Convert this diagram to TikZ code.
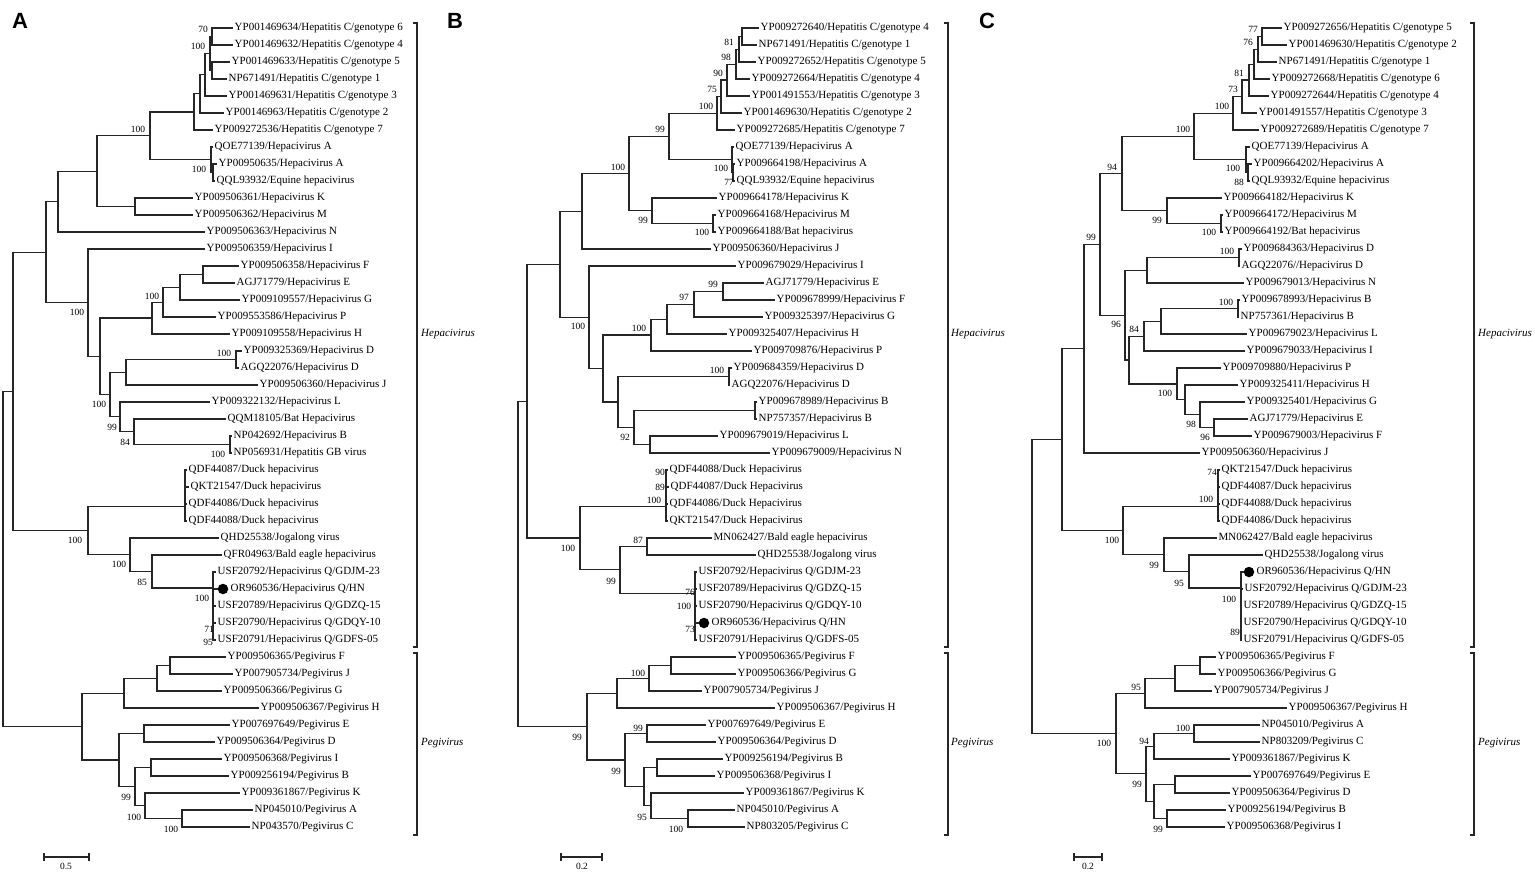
\documentclass[tikz,border=0pt]{standalone}
\usepackage{fontspec}
\setmainfont{Liberation Serif}
\newfontfamily\panelfont{Liberation Sans}
\usetikzlibrary{calc}

\begin{document}
\begin{tikzpicture}[x=1pt, y=-1pt,
  branch/.style={line width=1.2pt, draw=black!85},
  leaf/.style={anchor=west, inner sep=1.5pt, font=\fontsize{11}{11}\selectfont},
  boot/.style={inner sep=0pt, font=\fontsize{9.5}{9.5}\selectfont},
  dot/.style={circle, fill=black, inner sep=0pt, minimum size=10.5pt},
  genus/.style={anchor=west, inner sep=0pt, font=\fontsize{11}{11}\selectfont\itshape},
  panel/.style={inner sep=0pt, font=\fontsize{22}{22}\panelfont\bfseries},
  scalebar/.style={line width=1.2pt, draw=black!85}]

\def\clade#1#2#3#4{\path let \p1=(#3), \p2=(#4) in coordinate (#1) at (#2pt,{(\y1+\y2)/2});
  \draw[branch] (#1) |- (#3); \draw[branch] (#1) |- (#4);}

\useasboundingbox (0,0) rectangle (1535,871);

\node[panel] (pA) at (20,21) {A};
\node[panel] (pB) at (455,21) {B};
\node[panel] (pC) at (987,21) {C};

% panel A
\node[leaf] (A1) at (233,28) {YP001469634/Hepatitis C/genotype 6};
\node[leaf] (A2) at (233,45) {YP001469632/Hepatitis C/genotype 4};
\node[leaf] (A3) at (230,62) {YP001469633/Hepatitis C/genotype 5};
\node[leaf] (A4) at (227,79) {NP671491/Hepatitis C/genotype 1};
\node[leaf] (A5) at (227,96) {YP001469631/Hepatitis C/genotype 3};
\node[leaf] (A6) at (224,113) {YP00146963/Hepatitis C/genotype 2};
\node[leaf] (A7) at (213,130) {YP009272536/Hepatitis C/genotype 7};
\node[leaf] (A8) at (213,147) {QOE77139/Hepacivirus A};
\node[leaf] (A9) at (217,164) {YP00950635/Hepacivirus A};
\node[leaf] (A10) at (215,181) {QQL93932/Equine hepacivirus};
\node[leaf] (A11) at (193,198) {YP009506361/Hepacivirus K};
\node[leaf] (A12) at (193,215) {YP009506362/Hepacivirus M};
\node[leaf] (A13) at (205,232) {YP009506363/Hepacivirus N};
\node[leaf] (A14) at (205,249) {YP009506359/Hepacivirus I};
\node[leaf] (A15) at (239,266) {YP009506358/Hepacivirus F};
\node[leaf] (A16) at (235,283) {AGJ71779/Hepacivirus E};
\node[leaf] (A17) at (240,300) {YP009109557/Hepacivirus G};
\node[leaf] (A18) at (216,317) {YP009553586/Hepacivirus P};
\node[leaf] (A19) at (230,334) {YP009109558/Hepacivirus H};
\node[leaf] (A20) at (242,351) {YP009325369/Hepacivirus D};
\node[leaf] (A21) at (239,368) {AGQ22076/Hepacivirus D};
\node[leaf] (A22) at (258,385) {YP009506360/Hepacivirus J};
\node[leaf] (A23) at (210,402) {YP009322132/Hepacivirus L};
\node[leaf] (A24) at (226,419) {QQM18105/Bat Hepacivirus};
\node[leaf] (A25) at (232,436) {NP042692/Hepacivirus B};
\node[leaf] (A26) at (232,453) {NP056931/Hepatitis GB virus};
\node[leaf] (A27) at (187,470) {QDF44087/Duck hepacivirus};
\node[leaf] (A28) at (189,487) {QKT21547/Duck hepacivirus};
\node[leaf] (A29) at (187,504) {QDF44086/Duck hepacivirus};
\node[leaf] (A30) at (187,521) {QDF44088/Duck hepacivirus};
\node[leaf] (A31) at (219,538) {QHD25538/Jogalong virus};
\node[leaf] (A32) at (222,555) {QFR04963/Bald eagle hepacivirus};
\node[leaf] (A33) at (216,572) {USF20792/Hepacivirus Q/GDJM-23};
\node[dot] (A34d) at (223,589) {};
\node[leaf] (A34) at (229,589) {OR960536/Hepacivirus Q/HN};
\node[leaf] (A35) at (216,606) {USF20789/Hepacivirus Q/GDZQ-15};
\node[leaf] (A36) at (216,623) {USF20790/Hepacivirus Q/GDQY-10};
\node[leaf] (A37) at (216,640) {USF20791/Hepacivirus Q/GDFS-05};
\node[leaf] (A38) at (226,657) {YP009506365/Pegivirus F};
\node[leaf] (A39) at (233,674) {YP007905734/Pegivirus J};
\node[leaf] (A40) at (222,691) {YP009506366/Pegivirus G};
\node[leaf] (A41) at (259,708) {YP009506367/Pegivirus H};
\node[leaf] (A42) at (230,725) {YP007697649/Pegivirus E};
\node[leaf] (A43) at (215,742) {YP009506364/Pegivirus D};
\node[leaf] (A44) at (222,759) {YP009506368/Pegivirus I};
\node[leaf] (A45) at (229,776) {YP009256194/Pegivirus B};
\node[leaf] (A46) at (240,793) {YP009361867/Pegivirus K};
\node[leaf] (A47) at (253,810) {NP045010/Pegivirus A};
\node[leaf] (A48) at (250,827) {NP043570/Pegivirus C};

\clade{a12}{212}{A1}{A2}
\clade{a34}{212}{A3}{A4}
\clade{a14}{210}{a12}{a34}
\clade{a15}{205}{a14}{A5}
\clade{a16}{200}{a15}{A6}
\clade{a17}{194}{a16}{A7}
\clade{a910}{213}{A9}{A10}
\clade{a810}{211}{A8}{a910}
\clade{a110}{150}{a17}{a810}
\clade{a1112}{135}{A11}{A12}
\clade{a112}{97}{a110}{a1112}
\clade{a113}{58}{a112}{A13}
\clade{a1516}{203}{A15}{A16}
\clade{a1517}{180}{a1516}{A17}
\clade{a1518}{163}{a1517}{A18}
\clade{a1519}{152}{a1518}{A19}
\clade{a2021}{236}{A20}{A21}
\clade{a2022}{126}{a2021}{A22}
\clade{a2526}{230}{A25}{A26}
\clade{a2426}{134}{A24}{a2526}
\clade{a2326}{120}{A23}{a2426}
\clade{a2026}{110}{a2022}{a2326}
\clade{a1526}{100}{a1519}{a2026}
\clade{a1426}{88}{A14}{a1526}
\clade{a126}{46}{a113}{a1426}
\clade{a2728}{185}{A27}{A28}
\clade{a2729}{185}{a2728}{A29}
\clade{a2730}{185}{a2729}{A30}
\clade{a3637}{213}{A36}{A37}
\clade{a3537}{213}{A35}{a3637}
\clade{a3437}{213}{A34d}{a3537}
\clade{a3337}{213}{A33}{a3437}
\clade{a3237}{152}{A32}{a3337}
\clade{a3137}{130}{A31}{a3237}
\clade{a2737}{88}{a2730}{a3137}
\clade{a137}{13}{a126}{a2737}
\clade{a3839}{170}{A38}{A39}
\clade{a3840}{157}{a3839}{A40}
\clade{a3841}{124}{a3840}{A41}
\clade{a4243}{144}{A42}{A43}
\clade{a4445}{151}{A44}{A45}
\clade{a4748}{182}{A47}{A48}
\clade{a4648}{145}{A46}{a4748}
\clade{a4448}{135}{a4445}{a4648}
\clade{a4248}{119}{a4243}{a4448}
\clade{a3848}{82}{a3841}{a4248}
\clade{a148}{3}{a137}{a3848}

\node[boot] (bsA1) at (203,29) {70};
\node[boot] (bsA2) at (198,46) {100};
\node[boot] (bsA3) at (138,129) {100};
\node[boot] (bsA4) at (199,169) {100};
\node[boot] (bsA5) at (152,296) {100};
\node[boot] (bsA6) at (77,312) {100};
\node[boot] (bsA7) at (224,353) {100};
\node[boot] (bsA8) at (99,404) {100};
\node[boot] (bsA9) at (112,427) {99};
\node[boot] (bsA10) at (125,442) {84};
\node[boot] (bsA11) at (218,454) {100};
\node[boot] (bsA12) at (75,540) {100};
\node[boot] (bsA13) at (119,564) {100};
\node[boot] (bsA14) at (142,582) {85};
\node[boot] (bsA15) at (202,598) {100};
\node[boot] (bsA16) at (209,629) {71};
\node[boot] (bsA17) at (208,642) {95};
\node[boot] (bsA18) at (126,797) {99};
\node[boot] (bsA19) at (134,817) {100};
\node[boot] (bsA20) at (171,829) {100};

\draw[branch] (413,23) -- (417,23) -- (417,647) -- (413,647);
\draw[branch] (413,653) -- (417,653) -- (417,835) -- (413,835);
\node[genus] (gA1) at (421,334) {Hepacivirus};
\node[genus] (gA2) at (421,743) {Pegivirus};

\draw[scalebar] (44,853) -- (44,861) (44,857) -- (89,857) (89,853) -- (89,861);
\node[boot] (sA) at (66,866) {0.5};

% panel B
\node[leaf] (B1) at (759,28) {YP009272640/Hepatitis C/genotype 4};
\node[leaf] (B2) at (757,45) {NP671491/Hepatitis C/genotype 1};
\node[leaf] (B3) at (756,62) {YP009272652/Hepatitis C/genotype 5};
\node[leaf] (B4) at (750,79) {YP009272664/Hepatitis C/genotype 4};
\node[leaf] (B5) at (750,96) {YP001491553/Hepatitis C/genotype 3};
\node[leaf] (B6) at (742,113) {YP001469630/Hepatitis C/genotype 2};
\node[leaf] (B7) at (735,130) {YP009272685/Hepatitis C/genotype 7};
\node[leaf] (B8) at (734,147) {QOE77139/Hepacivirus A};
\node[leaf] (B9) at (735,164) {YP009664198/Hepacivirus A};
\node[leaf] (B10) at (735,181) {QQL93932/Equine hepacivirus};
\node[leaf] (B11) at (717,198) {YP009664178/Hepacivirus K};
\node[leaf] (B12) at (716,215) {YP009664168/Hepacivirus M};
\node[leaf] (B13) at (716,232) {YP009664188/Bat hepacivirus};
\node[leaf] (B14) at (711,249) {YP009506360/Hepacivirus J};
\node[leaf] (B15) at (736,266) {YP009679029/Hepacivirus I};
\node[leaf] (B16) at (764,283) {AGJ71779/Hepacivirus E};
\node[leaf] (B17) at (775,300) {YP009678999/Hepacivirus F};
\node[leaf] (B18) at (763,317) {YP009325397/Hepacivirus G};
\node[leaf] (B19) at (727,334) {YP009325407/Hepacivirus H};
\node[leaf] (B20) at (752,351) {YP009709876/Hepacivirus P};
\node[leaf] (B21) at (732,368) {YP009684359/Hepacivirus D};
\node[leaf] (B22) at (730,385) {AGQ22076/Hepacivirus D};
\node[leaf] (B23) at (757,402) {YP009678989/Hepacivirus B};
\node[leaf] (B24) at (757,419) {NP757357/Hepacivirus B};
\node[leaf] (B25) at (718,436) {YP009679019/Hepacivirus L};
\node[leaf] (B26) at (770,453) {YP009679009/Hepacivirus N};
\node[leaf] (B27) at (668,470) {QDF44088/Duck Hepacivirus};
\node[leaf] (B28) at (669,487) {QDF44087/Duck Hepacivirus};
\node[leaf] (B29) at (668,504) {QDF44086/Duck Hepacivirus};
\node[leaf] (B30) at (668,521) {QKT21547/Duck Hepacivirus};
\node[leaf] (B31) at (712,538) {MN062427/Bald eagle hepacivirus};
\node[leaf] (B32) at (756,555) {QHD25538/Jogalong virus};
\node[leaf] (B33) at (697,572) {USF20792/Hepacivirus Q/GDJM-23};
\node[leaf] (B34) at (697,589) {USF20789/Hepacivirus Q/GDZQ-15};
\node[leaf] (B35) at (697,606) {USF20790/Hepacivirus Q/GDQY-10};
\node[dot] (B36d) at (704,623) {};
\node[leaf] (B36) at (710,623) {OR960536/Hepacivirus Q/HN};
\node[leaf] (B37) at (697,640) {USF20791/Hepacivirus Q/GDFS-05};
\node[leaf] (B38) at (736,657) {YP009506365/Pegivirus F};
\node[leaf] (B39) at (736,674) {YP009506366/Pegivirus G};
\node[leaf] (B40) at (702,691) {YP007905734/Pegivirus J};
\node[leaf] (B41) at (775,708) {YP009506367/Pegivirus H};
\node[leaf] (B42) at (706,725) {YP007697649/Pegivirus E};
\node[leaf] (B43) at (716,742) {YP009506364/Pegivirus D};
\node[leaf] (B44) at (723,759) {YP009256194/Pegivirus B};
\node[leaf] (B45) at (715,776) {YP009506368/Pegivirus I};
\node[leaf] (B46) at (744,793) {YP009361867/Pegivirus K};
\node[leaf] (B47) at (735,810) {NP045010/Pegivirus A};
\node[leaf] (B48) at (745,827) {NP803205/Pegivirus C};

\clade{b12}{742}{B1}{B2}
\clade{b13}{739}{b12}{B3}
\clade{b14}{736}{b13}{B4}
\clade{b15}{727}{b14}{B5}
\clade{b16}{721}{b15}{B6}
\clade{b17}{717}{b16}{B7}
\clade{b910}{733}{B9}{B10}
\clade{b810}{732}{B8}{b910}
\clade{b110}{669}{b17}{b810}
\clade{b1213}{713}{B12}{B13}
\clade{b1113}{652}{B11}{b1213}
\clade{b113}{629}{b110}{b1113}
\clade{b114}{582}{b113}{B14}
\clade{b1617}{723}{B16}{B17}
\clade{b1618}{694}{b1617}{B18}
\clade{b1619}{667}{b1618}{B19}
\clade{b1620}{651}{b1619}{B20}
\clade{b2122}{729}{B21}{B22}
\clade{b2324}{755}{B23}{B24}
\clade{b2526}{650}{B25}{B26}
\clade{b2326}{634}{b2324}{b2526}
\clade{b2126}{618}{b2122}{b2326}
\clade{b1626}{603}{b1620}{b2126}
\clade{b1526}{589}{B15}{b1626}
\clade{b126}{560}{b114}{b1526}
\clade{b2728}{666}{B27}{B28}
\clade{b2729}{666}{b2728}{B29}
\clade{b2730}{666}{b2729}{B30}
\clade{b3435}{695}{B34}{B35}
\clade{b3637}{695}{B36d}{B37}
\clade{b3437}{695}{b3435}{b3637}
\clade{b3337}{695}{B33}{b3437}
\clade{b3132}{647}{B31}{B32}
\clade{b3137}{620}{b3132}{b3337}
\clade{b2737}{580}{b2730}{b3137}
\clade{b137}{527}{b126}{b2737}
\clade{b3839}{671}{B38}{B39}
\clade{b3840}{649}{b3839}{B40}
\clade{b3841}{617}{b3840}{B41}
\clade{b4243}{647}{B42}{B43}
\clade{b4445}{657}{B44}{B45}
\clade{b4748}{688}{B47}{B48}
\clade{b4648}{651}{B46}{b4748}
\clade{b4448}{644}{b4445}{b4648}
\clade{b4248}{625}{b4243}{b4448}
\clade{b3848}{587}{b3841}{b4248}
\clade{b148}{518}{b137}{b3848}

\node[boot] (bsB1) at (729,42) {81};
\node[boot] (bsB2) at (726,57) {98};
\node[boot] (bsB3) at (718,73) {90};
\node[boot] (bsB4) at (712,89) {75};
\node[boot] (bsB5) at (706,106) {100};
\node[boot] (bsB6) at (660,129) {99};
\node[boot] (bsB7) at (618,167) {100};
\node[boot] (bsB8) at (721,168) {100};
\node[boot] (bsB9) at (729,182) {77};
\node[boot] (bsB10) at (643,220) {99};
\node[boot] (bsB11) at (702,232) {100};
\node[boot] (bsB12) at (713,284) {99};
\node[boot] (bsB13) at (684,297) {97};
\node[boot] (bsB14) at (578,326) {100};
\node[boot] (bsB15) at (639,328) {100};
\node[boot] (bsB16) at (717,370) {100};
\node[boot] (bsB17) at (625,437) {92};
\node[boot] (bsB18) at (660,472) {90};
\node[boot] (bsB19) at (660,487) {89};
\node[boot] (bsB20) at (654,500) {100};
\node[boot] (bsB21) at (638,540) {87};
\node[boot] (bsB22) at (568,548) {100};
\node[boot] (bsB23) at (611,581) {99};
\node[boot] (bsB24) at (690,592) {76};
\node[boot] (bsB25) at (684,606) {100};
\node[boot] (bsB26) at (690,629) {73};
\node[boot] (bsB27) at (638,673) {100};
\node[boot] (bsB28) at (577,737) {99};
\node[boot] (bsB29) at (638,728) {99};
\node[boot] (bsB30) at (616,771) {99};
\node[boot] (bsB31) at (642,817) {95};
\node[boot] (bsB32) at (676,829) {100};

\draw[branch] (944,23) -- (948,23) -- (948,647) -- (944,647);
\draw[branch] (944,653) -- (948,653) -- (948,835) -- (944,835);
\node[genus] (gB1) at (951,334) {Hepacivirus};
\node[genus] (gB2) at (951,743) {Pegivirus};

\draw[scalebar] (561,853) -- (561,861) (561,857) -- (602,857) (602,853) -- (602,861);
\node[boot] (sB) at (582,866) {0.2};

% panel C
\node[leaf] (C1) at (1282,28) {YP009272656/Hepatitis C/genotype 5};
\node[leaf] (C2) at (1287,45) {YP001469630/Hepatitis C/genotype 2};
\node[leaf] (C3) at (1277,62) {NP671491/Hepatitis C/genotype 1};
\node[leaf] (C4) at (1270,79) {YP009272668/Hepatitis C/genotype 6};
\node[leaf] (C5) at (1269,96) {YP009272644/Hepatitis C/genotype 4};
\node[leaf] (C6) at (1257,113) {YP001491557/Hepatitis C/genotype 3};
\node[leaf] (C7) at (1259,130) {YP009272689/Hepatitis C/genotype 7};
\node[leaf] (C8) at (1250,147) {QOE77139/Hepacivirus A};
\node[leaf] (C9) at (1252,164) {YP009664202/Hepacivirus A};
\node[leaf] (C10) at (1250,181) {QQL93932/Equine hepacivirus};
\node[leaf] (C11) at (1222,198) {YP009664182/Hepacivirus K};
\node[leaf] (C12) at (1223,215) {YP009664172/Hepacivirus M};
\node[leaf] (C13) at (1223,232) {YP009664192/Bat hepacivirus};
\node[leaf] (C14) at (1242,249) {YP009684363/Hepacivirus D};
\node[leaf] (C15) at (1240,266) {AGQ22076//Hepacivirus D};
\node[leaf] (C16) at (1244,283) {YP009679013/Hepacivirus N};
\node[leaf] (C17) at (1240,300) {YP009678993/Hepacivirus B};
\node[leaf] (C18) at (1239,317) {NP757361/Hepacivirus B};
\node[leaf] (C19) at (1247,334) {YP009679023/Hepacivirus L};
\node[leaf] (C20) at (1245,351) {YP009679033/Hepacivirus I};
\node[leaf] (C21) at (1221,368) {YP009709880/Hepacivirus P};
\node[leaf] (C22) at (1238,385) {YP009325411/Hepacivirus H};
\node[leaf] (C23) at (1245,402) {YP009325401/Hepacivirus G};
\node[leaf] (C24) at (1248,419) {AGJ71779/Hepacivirus E};
\node[leaf] (C25) at (1252,436) {YP009679003/Hepacivirus F};
\node[leaf] (C26) at (1200,453) {YP009506360/Hepacivirus J};
\node[leaf] (C27) at (1220,470) {QKT21547/Duck hepacivirus};
\node[leaf] (C28) at (1220,487) {QDF44087/Duck hepacivirus};
\node[leaf] (C29) at (1220,504) {QDF44088/Duck hepacivirus};
\node[leaf] (C30) at (1220,521) {QDF44086/Duck hepacivirus};
\node[leaf] (C31) at (1217,538) {MN062427/Bald eagle hepacivirus};
\node[leaf] (C32) at (1263,555) {QHD25538/Jogalong virus};
\node[dot] (C33d) at (1249,572) {};
\node[leaf] (C33) at (1255,572) {OR960536/Hepacivirus Q/HN};
\node[leaf] (C34) at (1243,589) {USF20792/Hepacivirus Q/GDJM-23};
\node[leaf] (C35) at (1242,606) {USF20789/Hepacivirus Q/GDZQ-15};
\node[leaf] (C36) at (1242,623) {USF20790/Hepacivirus Q/GDQY-10};
\node[leaf] (C37) at (1242,640) {USF20791/Hepacivirus Q/GDFS-05};
\node[leaf] (C38) at (1216,657) {YP009506365/Pegivirus F};
\node[leaf] (C39) at (1216,674) {YP009506366/Pegivirus G};
\node[leaf] (C40) at (1212,691) {YP007905734/Pegivirus J};
\node[leaf] (C41) at (1287,708) {YP009506367/Pegivirus H};
\node[leaf] (C42) at (1260,725) {NP045010/Pegivirus A};
\node[leaf] (C43) at (1260,742) {NP803209/Pegivirus C};
\node[leaf] (C44) at (1230,759) {YP009361867/Pegivirus K};
\node[leaf] (C45) at (1251,776) {YP007697649/Pegivirus E};
\node[leaf] (C46) at (1230,793) {YP009506364/Pegivirus D};
\node[leaf] (C47) at (1226,810) {YP009256194/Pegivirus B};
\node[leaf] (C48) at (1225,827) {YP009506368/Pegivirus I};

\clade{c12}{1262}{C1}{C2}
\clade{c13}{1258}{c12}{C3}
\clade{c14}{1254}{c13}{C4}
\clade{c15}{1249}{c14}{C5}
\clade{c16}{1242}{c15}{C6}
\clade{c17}{1233}{c16}{C7}
\clade{c910}{1248}{C9}{C10}
\clade{c810}{1246}{C8}{c910}
\clade{c110}{1194}{c17}{c810}
\clade{c1213}{1221}{C12}{C13}
\clade{c1113}{1167}{C11}{c1213}
\clade{c113}{1122}{c110}{c1113}
\clade{c1415}{1239}{C14}{C15}
\clade{c1416}{1147}{c1415}{C16}
\clade{c1718}{1238}{C17}{C18}
\clade{c1719}{1161}{c1718}{C19}
\clade{c1720}{1144}{c1719}{C20}
\clade{c2425}{1214}{C24}{C25}
\clade{c2325}{1200}{C23}{c2425}
\clade{c2225}{1185}{C22}{c2325}
\clade{c2125}{1177}{C21}{c2225}
\clade{c1725}{1129}{c1720}{c2125}
\clade{c1425}{1125}{c1416}{c1725}
\clade{c125}{1100}{c113}{c1425}
\clade{c126}{1084}{c125}{C26}
\clade{c2728}{1218}{C27}{C28}
\clade{c2729}{1218}{c2728}{C29}
\clade{c2730}{1218}{c2729}{C30}
\clade{c3637}{1241}{C36}{C37}
\clade{c3537}{1241}{C35}{c3637}
\clade{c3437}{1241}{C34}{c3537}
\clade{c3337}{1241}{C33d}{c3437}
\clade{c3237}{1189}{C32}{c3337}
\clade{c3137}{1164}{C31}{c3237}
\clade{c2737}{1123}{c2730}{c3137}
\clade{c137}{1062}{c126}{c2737}
\clade{c3839}{1200}{C38}{C39}
\clade{c3840}{1175}{c3839}{C40}
\clade{c3841}{1145}{c3840}{C41}
\clade{c4243}{1194}{C42}{C43}
\clade{c4244}{1154}{c4243}{C44}
\clade{c4546}{1175}{C45}{C46}
\clade{c4748}{1167}{C47}{C48}
\clade{c4548}{1154}{c4546}{c4748}
\clade{c4248}{1146}{c4244}{c4548}
\clade{c3848}{1116}{c3841}{c4248}
\clade{c148}{1032}{c137}{c3848}

\node[boot] (bsC1) at (1253,29) {77};
\node[boot] (bsC2) at (1248,42) {76};
\node[boot] (bsC3) at (1239,73) {81};
\node[boot] (bsC4) at (1233,89) {73};
\node[boot] (bsC5) at (1222,106) {100};
\node[boot] (bsC6) at (1183,129) {100};
\node[boot] (bsC7) at (1233,168) {100};
\node[boot] (bsC8) at (1239,182) {88};
\node[boot] (bsC9) at (1112,167) {94};
\node[boot] (bsC10) at (1157,220) {99};
\node[boot] (bsC11) at (1209,232) {100};
\node[boot] (bsC12) at (1091,237) {99};
\node[boot] (bsC13) at (1227,251) {100};
\node[boot] (bsC14) at (1226,302) {100};
\node[boot] (bsC15) at (1116,324) {96};
\node[boot] (bsC16) at (1134,329) {84};
\node[boot] (bsC17) at (1165,393) {100};
\node[boot] (bsC18) at (1191,424) {98};
\node[boot] (bsC19) at (1205,437) {96};
\node[boot] (bsC20) at (1212,472) {74};
\node[boot] (bsC21) at (1206,499) {100};
\node[boot] (bsC22) at (1112,540) {100};
\node[boot] (bsC23) at (1154,565) {99};
\node[boot] (bsC24) at (1179,583) {95};
\node[boot] (bsC25) at (1229,599) {100};
\node[boot] (bsC26) at (1235,632) {89};
\node[boot] (bsC27) at (1136,687) {95};
\node[boot] (bsC28) at (1104,743) {100};
\node[boot] (bsC29) at (1183,728) {100};
\node[boot] (bsC30) at (1144,741) {94};
\node[boot] (bsC31) at (1137,784) {99};
\node[boot] (bsC32) at (1158,829) {99};

\draw[branch] (1470,23) -- (1474,23) -- (1474,647) -- (1470,647);
\draw[branch] (1470,653) -- (1474,653) -- (1474,835) -- (1470,835);
\node[genus] (gC1) at (1478,334) {Hepacivirus};
\node[genus] (gC2) at (1478,743) {Pegivirus};

\draw[scalebar] (1074,853) -- (1074,861) (1074,857) -- (1102,857) (1102,853) -- (1102,861);
\node[boot] (sC) at (1088,866) {0.2};

\end{tikzpicture}
\end{document}
